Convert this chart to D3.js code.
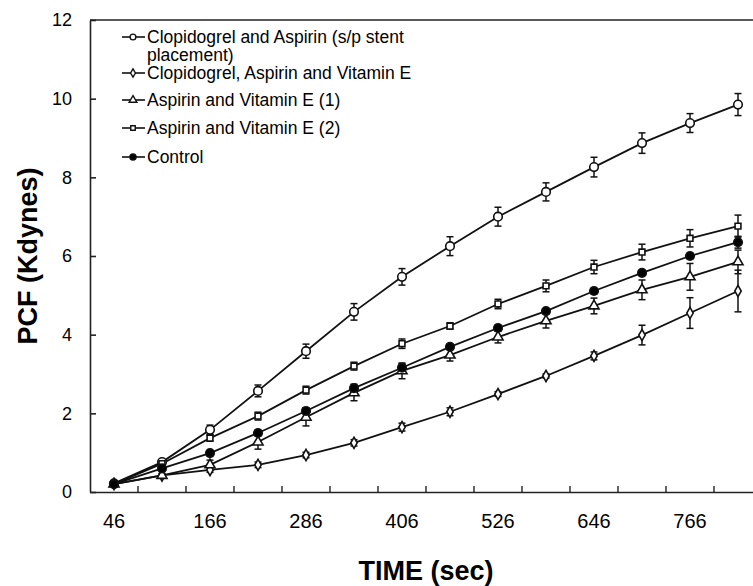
<!DOCTYPE html>
<html>
<head>
<meta charset="utf-8">
<script src="https://cdn.jsdelivr.net/npm/d3@7"></script>
<style>
  body { margin: 0; background: #fff; }
  svg { display: block; font-family: "Liberation Sans", Arial, sans-serif; }
</style>
</head>
<body>
<div id="chart"></div>
<script>
// sampling times (sec)
const times = [46, 106, 166, 226, 286, 346, 406, 466, 526, 586, 646, 706, 766, 826];
const timeLabels = [46, 166, 286, 406, 526, 646, 766];
const yTicks = [0, 2, 4, 6, 8, 10, 12];

// PCF (Kdynes) per group, with error (+/-)
const clopAsp = [0.22, 0.76, 1.58, 2.57, 3.58, 4.58, 5.47, 6.25, 7.0, 7.63, 8.26, 8.87, 9.38, 9.85];
const clopAspErr = [0.03, 0.06, 0.12, 0.15, 0.18, 0.21, 0.21, 0.24, 0.24, 0.23, 0.25, 0.26, 0.24, 0.28];
const clopAspVitE = [0.2, 0.42, 0.56, 0.69, 0.94, 1.25, 1.65, 2.04, 2.49, 2.95, 3.46, 3.99, 4.55, 5.11];
const clopAspVitEErr = [0.03, 0.04, 0.06, 0.07, 0.07, 0.08, 0.1, 0.1, 0.06, 0.05, 0.1, 0.25, 0.39, 0.53];
const aspVitE1 = [0.2, 0.42, 0.69, 1.27, 1.9, 2.52, 3.08, 3.48, 3.94, 4.35, 4.73, 5.14, 5.47, 5.85];
const aspVitE1Err = [0.03, 0.05, 0.12, 0.18, 0.22, 0.2, 0.2, 0.15, 0.15, 0.18, 0.2, 0.25, 0.34, 0.3];
const aspVitE2 = [0.2, 0.72, 1.37, 1.93, 2.59, 3.2, 3.77, 4.22, 4.78, 5.24, 5.72, 6.1, 6.45, 6.76];
const aspVitE2Err = [0.03, 0.05, 0.08, 0.1, 0.1, 0.1, 0.12, 0.08, 0.12, 0.15, 0.17, 0.2, 0.22, 0.28];
const control = [0.2, 0.6, 0.99, 1.5, 2.06, 2.64, 3.16, 3.69, 4.17, 4.6, 5.11, 5.57, 6.0, 6.35];
const controlErr = [0.03, 0.04, 0.06, 0.07, 0.08, 0.1, 0.1, 0.06, 0.08, 0.06, 0.07, 0.06, 0.07, 0.15];

const legendNames = [
  ["Clopidogrel and Aspirin (s/p stent", "placement)"],
  ["Clopidogrel, Aspirin and Vitamin E"],
  ["Aspirin and Vitamin E (1)"],
  ["Aspirin and Vitamin E (2)"],
  ["Control"]
];

var series = [
  { name: legendNames[0], values: clopAsp, err: clopAspErr, shape: d3.symbolCircle, size: 58, fill: "white", lsize: 26 },
  { name: legendNames[1], values: clopAspVitE, err: clopAspVitEErr, shape: d3.symbolDiamond, size: 36, fill: "white", lsize: 20 },
  { name: legendNames[2], values: aspVitE1, err: aspVitE1Err, shape: d3.symbolTriangle, size: 44, fill: "white", lsize: 26 },
  { name: legendNames[3], values: aspVitE2, err: aspVitE2Err, shape: d3.symbolSquare, size: 34, fill: "white", lsize: 20 },
  { name: legendNames[4], values: control, err: controlErr, shape: d3.symbolCircle, size: 58, fill: "black", lsize: 30 }
];

var width = 753, height = 586;
var margin = { left: 90, top: 20, bottom: 94 };

var svg = d3.select("#chart").append("svg")
  .attr("width", width)
  .attr("height", height);

// x is categorical: one band per sample time, ticks on band edges
var x = d3.scaleBand()
  .domain(times)
  .range([margin.left, margin.left + times.length * 48]);

var y = d3.scaleLinear()
  .domain([0, 12])
  .range([height - margin.bottom, margin.top]);

var cx = t => x(t) + x.bandwidth() / 2;

// y axis
var yAxis = svg.append("g")
  .attr("transform", `translate(${margin.left},0)`)
  .call(d3.axisLeft(y).tickValues(yTicks).tickSize(-6).tickSizeOuter(0).tickPadding(18));
yAxis.selectAll("text").style("font-size", "18px").attr("fill", "black");
yAxis.selectAll("line, path").attr("stroke", "#222").attr("stroke-width", 1.6);

// x axis: labels on every other band
var xAxis = svg.append("g")
  .attr("transform", `translate(0,${y(0)})`)
  .call(d3.axisBottom(x).tickValues(timeLabels).tickSize(0).tickSizeOuter(0).tickPadding(22));
xAxis.selectAll("text").style("font-size", "20px").attr("fill", "black");
xAxis.select("path").attr("stroke", "#222").attr("stroke-width", 1.6);

// inward ticks at the band boundaries
xAxis.selectAll(".edge")
  .data(times.slice(1))
  .join("line")
  .attr("class", "edge")
  .attr("x1", d => x(d)).attr("x2", d => x(d))
  .attr("y1", 0).attr("y2", -6)
  .attr("stroke", "#222").attr("stroke-width", 1.4);

// top frame line
svg.append("line")
  .attr("x1", margin.left).attr("x2", x.range()[1])
  .attr("y1", y(12)).attr("y2", y(12))
  .attr("stroke", "#222").attr("stroke-width", 1.6);

// titles
svg.append("text")
  .attr("x", 426).attr("y", 580)
  .attr("text-anchor", "middle")
  .style("font-size", "27px").style("font-weight", "bold")
  .text("TIME (sec)");

svg.append("text")
  .attr("transform", `translate(37,${(y(0) + y(12)) / 2}) rotate(-90)`)
  .attr("text-anchor", "middle")
  .style("font-size", "27px").style("font-weight", "bold")
  .text("PCF (Kdynes)");

var line = d3.line()
  .x((d, i) => cx(times[i]))
  .y(d => y(d));

var plot = svg.append("g");

series.forEach(s => {
  plot.append("path")
    .datum(s.values)
    .attr("fill", "none")
    .attr("stroke", "#111")
    .attr("stroke-width", 1.8)
    .attr("d", line);
});

series.forEach(s => {
  var g = plot.append("g").attr("stroke", "#111").attr("stroke-width", 1.5);
  s.values.forEach((v, i) => {
    var px = cx(times[i]);
    var lo = y(v - s.err[i]), hi = y(v + s.err[i]);
    g.append("line").attr("x1", px).attr("x2", px).attr("y1", lo).attr("y2", hi);
    g.append("line").attr("x1", px - 3.5).attr("x2", px + 3.5).attr("y1", lo).attr("y2", lo);
    g.append("line").attr("x1", px - 3.5).attr("x2", px + 3.5).attr("y1", hi).attr("y2", hi);
  });
});

series.forEach(s => {
  plot.append("g")
    .selectAll("path")
    .data(s.values)
    .join("path")
    .attr("transform", (d, i) => `translate(${cx(times[i])},${y(d)})`)
    .attr("d", d3.symbol().type(s.shape).size(s.size))
    .attr("fill", s.fill)
    .attr("stroke", "#111")
    .attr("stroke-width", 1.6);
});

// legend
var legendRows = [37, 73, 100, 128, 157];
var legend = svg.append("g");
series.forEach((s, k) => {
  var ly = legendRows[k];
  legend.append("line")
    .attr("x1", 122).attr("x2", 145).attr("y1", ly).attr("y2", ly)
    .attr("stroke", "#111").attr("stroke-width", 1.6);
  legend.append("path")
    .attr("transform", `translate(133,${ly})`)
    .attr("d", d3.symbol().type(s.shape).size(s.lsize))
    .attr("fill", s.fill).attr("stroke", "#111").attr("stroke-width", 1.4);
  s.name.forEach((t, j) => {
    legend.append("text")
      .attr("x", 147).attr("y", ly + 6 + j * 18)
      .style("font-size", "17.5px")
      .text(t);
  });
});
</script>
</body>
</html>
